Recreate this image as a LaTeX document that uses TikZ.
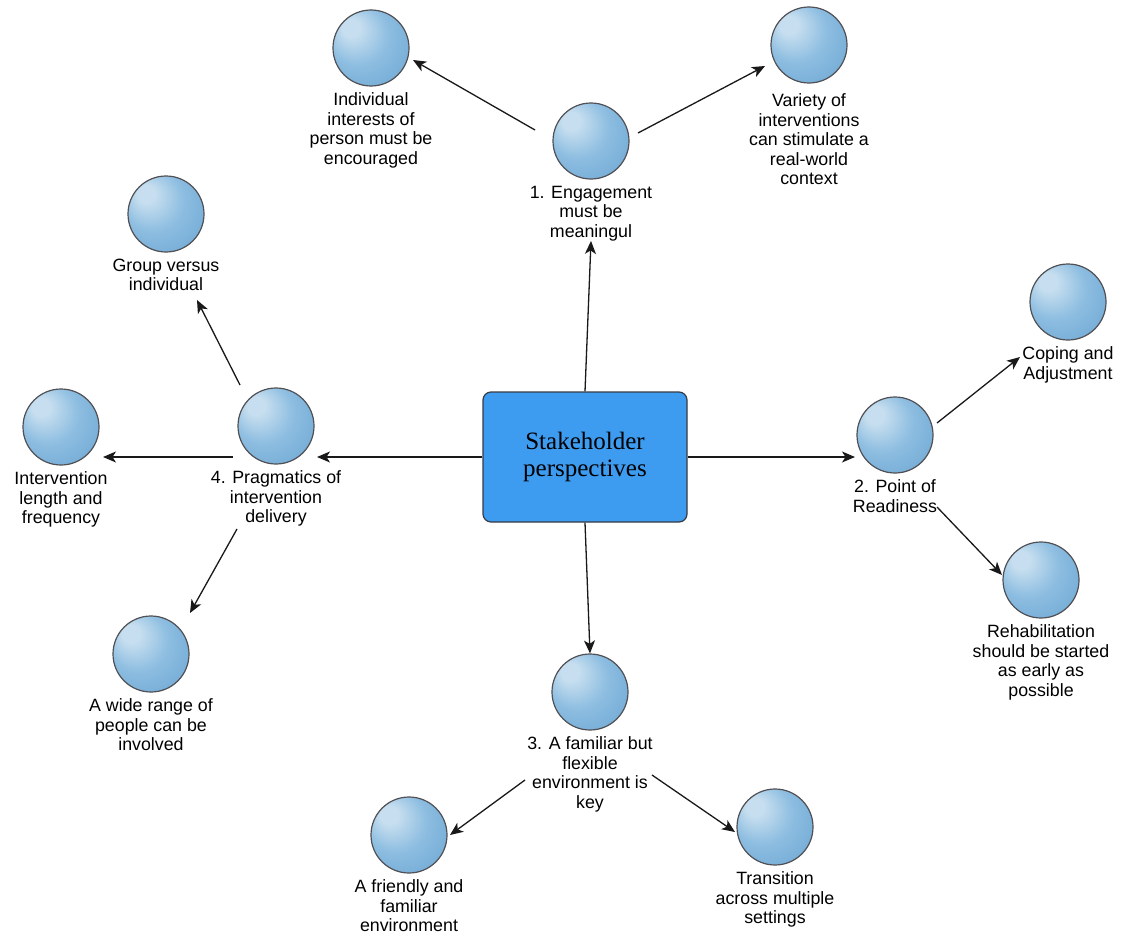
\documentclass[tikz,border=0pt]{standalone}
\usepackage{fontspec}
\setmainfont{Liberation Sans}
\newfontfamily\hubfont{Liberation Serif}
\usepackage{tikz}
\usetikzlibrary{arrows.meta,positioning,calc}
\definecolor{hubBlue} {RGB}{ 61,155,240}
\definecolor{hubEdge} {RGB}{ 55, 60, 70}
\definecolor{ballHi}  {RGB}{198,222,239}
\definecolor{ballMid} {RGB}{142,190,225}
\definecolor{ballBase}{RGB}{114,170,213}
\definecolor{ballDark}{RGB}{ 86,142,192}
\definecolor{ballEdge}{RGB}{ 80, 80, 85}
\pgfdeclareradialshading{ballshade}{\pgfpoint{-15bp}{15bp}}{color(0bp)=(ballHi); color(6bp)=(ballHi); color(20bp)=(ballMid); color(36bp)=(ballBase); color(50bp)=(ballDark)}

\begin{document}
\begin{tikzpicture}[x=1pt,y=-1pt,
    ball/.style={circle,minimum size=76pt,inner sep=0pt,draw=ballEdge,line width=1.2pt,shading=ballshade},
    lbl/.style={font=\fontsize{17.8}{19.5}\selectfont,align=center,inner sep=0pt},
    hubbox/.style={rectangle,rounded corners=8pt,minimum width=204pt,minimum height=130pt,
      fill=hubBlue,draw=hubEdge,line width=1.2pt,align=center,
      font=\hubfont\fontsize{25}{27}\selectfont},
    link/.style={-{Stealth[length=13pt,width=11pt,inset=3.5pt]},line width=1.3pt,draw=black!90}]
  \path[use as bounding box,fill=white] (0,0) rectangle (1124,934);

  \node[hubbox] (hub) at (585,457) {Stakeholder\\perspectives};

  \node[ball] (eng)  at (591,141) {};
  \node[ball] (ind)  at (371,48)  {};
  \node[ball] (var)  at (809,45)  {};
  \node[ball] (grp)  at (166,214) {};
  \node[ball] (p4)   at (276,426) {};
  \node[ball] (int)  at (61,427)  {};
  \node[ball] (wide) at (151,654) {};
  \node[ball] (fam)  at (590,692) {};
  \node[ball] (frd)  at (409,835) {};
  \node[ball] (trn)  at (775,827) {};
  \node[ball] (pt)   at (895,435) {};
  \node[ball] (cop)  at (1068,302) {};
  \node[ball] (reh)  at (1041,580) {};

  \node[lbl,below=6pt of eng]  (englbl)  {1. Engagement\\must be\\meaningul};
  \node[lbl,below=6pt of ind]  (indlbl)  {Individual\\interests of\\person must be\\encouraged};
  \node[lbl,below=10pt of var] (varlbl)  {Variety of\\interventions\\can stimulate a\\real-world\\context};
  \node[lbl,below=6pt of grp]  (grplbl)  {Group versus\\individual};
  \node[lbl,below=6pt of p4]   (p4lbl)   {4. Pragmatics of\\intervention\\delivery};
  \node[lbl,below=6pt of int]  (intlbl)  {Intervention\\length and\\frequency};
  \node[lbl,below=6pt of wide] (widelbl) {A wide range of\\people can be\\involved};
  \node[lbl,below=6pt of fam]  (famlbl)  {3. A familiar but\\flexible\\environment is\\key};
  \node[lbl,below=6pt of frd]  (frdlbl)  {A friendly and\\familiar\\environment};
  \node[lbl,below=6pt of trn]  (trnlbl)  {Transition\\across multiple\\settings};
  \node[lbl,below=6pt of pt]   (ptlbl)   {2. Point of\\Readiness};
  \node[lbl,below=6pt of cop]  (coplbl)  {Coping and\\Adjustment};
  \node[lbl,below=6pt of reh]  (rehlbl)  {Rehabilitation\\should be started\\as early as\\possible};

  \draw[link] (hub.north) -- (englbl.south);
  \draw[link] ($(eng)+(-56,-11)$) -- ($(ind)+(42,12)$);
  \draw[link] ($(eng)+(47,-8)$) -- ($(var)+(-44,21)$);
  \draw[link] (hub.west) -- ($(p4)+(41,31)$);
  \draw[link] ($(p4)+(-43,31)$) -- ($(int)+(42,30)$);
  \draw[link] ($(p4)+(-36,-41)$) -- ($(grp)+(31,86)$);
  \draw[link] ($(p4)+(-39,103)$) -- ($(wide)+(39,-41)$);
  \draw[link] (hub.south) -- (fam.north);
  \draw[link] ($(fam)+(-65,88)$) -- ($(frd)+(41,0)$);
  \draw[link] ($(fam)+(62,83)$) -- ($(trn)+(-40,5)$);
  \draw[link] (hub.east) -- ($(pt)+(-40,22)$);
  \draw[link] ($(pt)+(42,-12)$) -- ($(cop)+(-48,55)$);
  \draw[link] ($(pt)+(42,72)$) -- ($(reh)+(-39,-5)$);
\end{tikzpicture}
\end{document}
